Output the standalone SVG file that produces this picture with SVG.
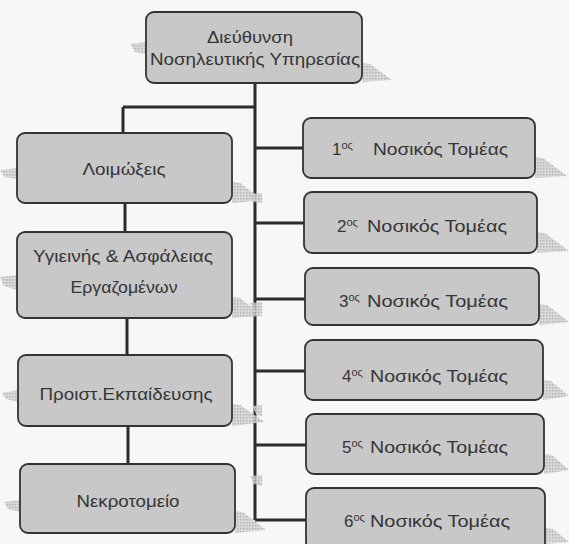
<svg xmlns="http://www.w3.org/2000/svg" width="569" height="544" viewBox="0 0 569 544">
<defs>
<pattern id="hatch" width="3" height="3" patternUnits="userSpaceOnUse">
<rect width="3" height="3" fill="#d4d4d4"/>
<rect width="1.5" height="1.5" fill="#a8a8a8"/>
</pattern>
<style>
.box{fill:#c8c8c8;stroke:#333333;stroke-width:1.8}
.sh{fill:url(#hatch);opacity:0.85}
.t{font-family:"Liberation Sans",Arial,sans-serif;font-size:17px;fill:#353535;text-anchor:middle}
.tl{font-family:"Liberation Sans",Arial,sans-serif;font-size:17px;fill:#353535}
.sup{font-size:11px}
.c{stroke:#2c2c2c;stroke-width:3;fill:none}
</style>
</defs>
<rect width="569" height="544" fill="#f7f7f7"/>

<g id="connectors">
<path class="c" d="M255 83 V520"/>
<path class="c" d="M123 107 H255"/>
<path class="c" d="M123 107 V133"/>
<path class="c" d="M125 203 V232"/>
<path class="c" d="M127 318 V355"/>
<path class="c" d="M128 426 V464"/>
<path class="c" d="M255 148 H303"/>
<path class="c" d="M255 223 H304"/>
<path class="c" d="M255 299 H305"/>
<path class="c" d="M255 371 H305"/>
<path class="c" d="M255 445 H306"/>
<path class="c" d="M255 520 H306"/>
</g>

<g id="n-top">
<polygon class="sh" points="130,44 146,42 146,54 135,52"/>
<polygon class="sh" points="362,63 370,64 392,80 362,82"/>
<rect class="box" x="146" y="12" width="216" height="71" rx="8"/>
<text class="t" x="250" y="43" textLength="86" lengthAdjust="spacingAndGlyphs">Διεύθυνση</text>
<text class="t" x="255" y="65" textLength="210" lengthAdjust="spacingAndGlyphs">Νοσηλευτικής Υπηρεσίας</text>
</g>

<g id="n-loimoxeis">
<polygon class="sh" points="0,170 17,168 17,179 4,177"/>
<polygon class="sh" points="232,182 240,183 263,200 232,203"/>
<rect class="box" x="17" y="133" width="215" height="70" rx="8"/>
<text class="t" x="124" y="175" textLength="83" lengthAdjust="spacingAndGlyphs">Λοιμώξεις</text>
</g>

<g id="n-ygieinis">
<polygon class="sh" points="0,277 17,275 17,290 4,286"/>
<polygon class="sh" points="232,297 240,298 263,316 232,318"/>
<rect class="box" x="17" y="232" width="215" height="86" rx="8"/>
<text class="t" x="123" y="262" textLength="180" lengthAdjust="spacingAndGlyphs">Υγιεινής &amp; Ασφάλειας</text>
<text class="t" x="124" y="293" textLength="107" lengthAdjust="spacingAndGlyphs">Εργαζομένων</text>
</g>

<g id="n-proist">
<polygon class="sh" points="2,393 18,390 18,402 6,399"/>
<polygon class="sh" points="232,404 240,405 265,422 232,426"/>
<rect class="box" x="18" y="355" width="214" height="71" rx="8"/>
<text class="t" x="126" y="400" textLength="173" lengthAdjust="spacingAndGlyphs">Προιστ.Εκπαίδευσης</text>
</g>

<g id="n-nekrotomeio">
<polygon class="sh" points="4,502 20,500 20,512 8,509"/>
<polygon class="sh" points="235,511 243,512 266,530 235,533"/>
<rect class="box" x="20" y="464" width="215" height="69" rx="8"/>
<text class="t" x="128" y="507" textLength="103" lengthAdjust="spacingAndGlyphs">Νεκροτομείο</text>
</g>

<g id="n-tomeas1">
<polygon class="sh" points="535,157 543,158 567,176 535,178"/>
<rect class="box" x="303" y="118" width="232" height="60" rx="8"/>
<text class="tl" y="155"><tspan x="332">1</tspan><tspan class="sup" dy="-6">ος</tspan><tspan x="373" dy="6" textLength="135" lengthAdjust="spacingAndGlyphs">Νοσικός Τομέας</tspan></text>
</g>

<g id="n-tomeas2">
<polygon class="sh" points="250,194 262,193 262,203 254,202"/>
<polygon class="sh" points="537,232 545,233 569,251 537,253"/>
<rect class="box" x="304" y="192" width="233" height="61" rx="8"/>
<text class="tl" y="232"><tspan x="337">2</tspan><tspan class="sup" dy="-6">ος</tspan><tspan x="367" dy="6" textLength="140" lengthAdjust="spacingAndGlyphs">Νοσικός Τομέας</tspan></text>
</g>

<g id="n-tomeas3">
<polygon class="sh" points="250,303 262,302 262,314 254,312"/>
<polygon class="sh" points="539,304 547,305 569,322 539,325"/>
<rect class="box" x="305" y="268" width="234" height="57" rx="8"/>
<text class="tl" y="307"><tspan x="339">3</tspan><tspan class="sup" dy="-6">ος</tspan><tspan x="367" dy="6" textLength="141" lengthAdjust="spacingAndGlyphs">Νοσικός Τομέας</tspan></text>
</g>

<g id="n-tomeas4">
<polygon class="sh" points="252,406 262,405 262,417 256,414"/>
<polygon class="sh" points="543,380 551,381 569,396 543,400"/>
<rect class="box" x="305" y="340" width="238" height="60" rx="8"/>
<text class="tl" y="382"><tspan x="342">4</tspan><tspan class="sup" dy="-6">ος</tspan><tspan x="370" dy="6" textLength="138" lengthAdjust="spacingAndGlyphs">Νοσικός Τομέας</tspan></text>
</g>

<g id="n-tomeas5">
<polygon class="sh" points="250,476 262,475 262,486 254,484"/>
<polygon class="sh" points="544,454 552,455 569,470 544,474"/>
<rect class="box" x="306" y="414" width="238" height="60" rx="8"/>
<text class="tl" y="453"><tspan x="342">5</tspan><tspan class="sup" dy="-6">ος</tspan><tspan x="370" dy="6" textLength="138" lengthAdjust="spacingAndGlyphs">Νοσικός Τομέας</tspan></text>
</g>

<g id="n-tomeas6">
<polygon class="sh" points="545,528 553,529 569,542 545,544"/>
<rect class="box" x="306" y="488" width="239" height="62" rx="8"/>
<text class="tl" y="527"><tspan x="344">6</tspan><tspan class="sup" dy="-6">ος</tspan><tspan x="370" dy="6" textLength="140" lengthAdjust="spacingAndGlyphs">Νοσικός Τομέας</tspan></text>
</g>
</svg>
